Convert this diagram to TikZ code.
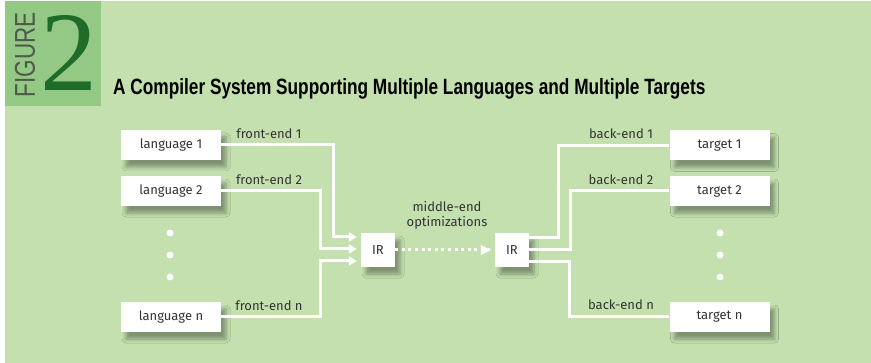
\documentclass[tikz,border=0pt]{standalone}
\usepackage{fontspec}
\setmainfont{Fira Sans}
\newfontfamily\titlefont{Liberation Sans}
\newfontfamily\twofont{Liberation Serif}
\usetikzlibrary{arrows.meta,shadows.blur,calc}
\definecolor{bgl}{HTML}{C3E0AE}
\definecolor{bgd}{HTML}{93C985}
\definecolor{twoc}{HTML}{1E6B2A}
\definecolor{figc}{HTML}{4F5A4B}
\definecolor{labc}{HTML}{333333}
\tikzset{
  box/.style={draw=none,fill=white,inner sep=0pt,
    font=\fontsize{13}{15}\selectfont,text=labc,
    blur shadow={shadow xshift=5pt,shadow yshift=-7pt,shadow blur radius=4pt,shadow opacity=35}},
  wide/.style={box,minimum width=100pt,minimum height=30pt},
  irbox/.style={box,minimum width=34pt,minimum height=34pt},
  wline/.style={draw=white,line width=3pt},
  warrow/.style={wline,-{Triangle[length=8pt,width=9pt]},shorten >=4pt},
  lab/.style={font=\fontsize{13}{15}\selectfont,text=labc,inner sep=0pt},
  dotn/.style={circle,fill=white,minimum size=7pt,inner sep=0pt},
}
\begin{document}
\begin{tikzpicture}[x=1pt,y=-1pt]
\useasboundingbox (0,0) rectangle (871,363);
\fill[white] (0,0) rectangle (871,363);
\fill[bgl] (5,1) rectangle (871,363);
\fill[bgd] (5,1) rectangle (101,106);
\node[inner sep=0pt,rotate=90,text=figc] (fig) at (25,55)
  {\resizebox{85pt}{20pt}{\titlefont FIGURE}};
\node[inner sep=0pt,text=twoc] (two) at (69,53)
  {\resizebox{57pt}{75pt}{\twofont 2}};
\node[inner sep=0pt,anchor=base west,text=black] (title) at (113,95)
  {\resizebox{592pt}{!}{\titlefont\bfseries\addfontfeature{FakeStretch=0.78} A Compiler System Supporting Multiple Languages and Multiple Targets}};
% left boxes
\node[wide] (L1) at (171,145) {language 1};
\node[wide] (L2) at (171,191) {language 2};
\node[wide] (Ln) at (171,317) {language n};
\node[dotn] (d1) at (170,233) {};
\node[dotn] (d2) at (170,255) {};
\node[dotn] (d3) at (170,277) {};
% IR boxes
\node[irbox] (IRa) at (378,250) {IR};
\node[irbox] (IRb) at (512,250) {IR};
% right boxes
\node[wide] (T1) at (719.5,145.5) {target 1};
\node[wide] (T2) at (719.5,191) {target 2};
\node[wide] (Tn) at (719.5,317) {target n};
\node[dotn] (e1) at (720,233) {};
\node[dotn] (e2) at (720,255) {};
\node[dotn] (e3) at (720,277) {};
% front-end connectors
\draw[warrow] (L1.east) -- ++(112,0) |- ([yshift=13pt]IRa.west);
\draw[warrow] (L2.east) -- ++(99,0) |- ([yshift=1pt]IRa.west);
\draw[warrow] (Ln.east) -- ++(99,0) |- ([yshift=-11pt]IRa.west);
% middle dotted
\draw[draw=white,line width=3pt,dash pattern=on 3pt off 3.6pt,shorten >=5pt] (IRa.east) -- (IRb.west);
\draw[draw=none,fill=white] ([xshift=-14pt]IRb.west) ++(0,-5) -- ++(10,5) -- ++(-10,5) -- cycle;
% back-end connectors
\draw[wline] ([yshift=12pt]IRb.east) -- ++(29,0) |- (T1.west);
\draw[wline] (IRb.east) -- ++(41,0) |- (T2.west);
\draw[wline] ([yshift=-12pt]IRb.east) -- ++(40,0) |- (Tn.west);
% labels
\node[lab] (fe1) at (269,134) {front-end 1};
\node[lab] (fe2) at (269,180) {front-end 2};
\node[lab] (fen) at (269,306) {front-end n};
\node[lab] (be1) at (621,134) {back-end 1};
\node[lab] (be2) at (621,180) {back-end 2};
\node[lab] (ben) at (621,305) {back-end n};
\node[lab,align=center,font=\fontsize{13}{15}\selectfont] (mid) at (447,215) {middle-end\\optimizations};
\end{tikzpicture}
\end{document}
